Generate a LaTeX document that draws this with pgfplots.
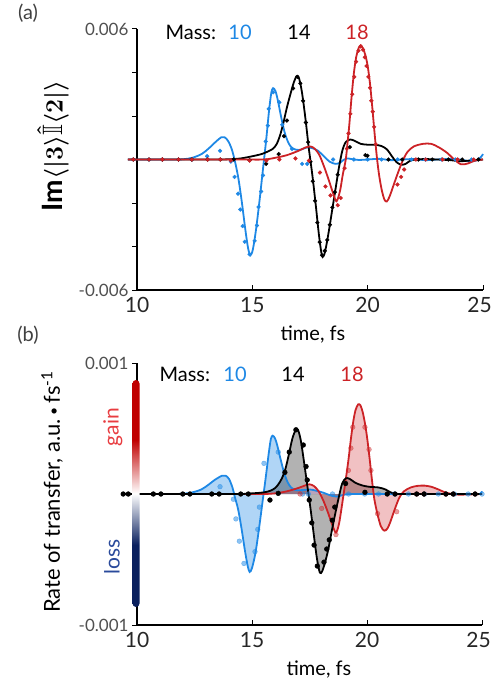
\documentclass[border=0pt]{standalone}
\usepackage{pgfplots}
\pgfplotsset{compat=1.18}
\usepackage{pgfplotstable}
\usepackage{amssymb}
\usepackage{fontspec}
\setmainfont{Lato}
\definecolor{cblue}{RGB}{30,136,229}
\definecolor{cred}{RGB}{204,34,38}
\definecolor{gainred}{RGB}{232,60,64}
\definecolor{lossblue}{RGB}{42,74,155}
\definecolor{barred}{RGB}{192,0,0}
\definecolor{barnavy}{RGB}{10,32,94}
\definecolor{ticklab}{RGB}{80,80,80}
\pgfdeclareverticalshading{gainloss}{100bp}{color(0bp)=(barnavy); color(25bp)=(barnavy); color(38.7bp)=(barnavy); color(50bp)=(white); color(61.8bp)=(barred); color(75bp)=(barred); color(100bp)=(barred)}
\newcommand{\imlabel}{\boldmath$\mathrm{Im}\langle\vert 3\rangle\hat{\mathbb{I}}\langle 2\vert\rangle$}

% ---------- top panel (units of 1e-3) ----------
\pgfplotstableread{
t v
9.6 0
10.5 0
11.0 0
11.5 0
12.0 0.01
12.4 0.08
12.8 0.25
13.1 0.5
13.4 0.8
13.65 1.02
13.8 1.02
13.95 0.85
14.1 0.5
14.25 -0.1
14.4 -0.9
14.55 -2.0
14.7 -3.25
14.82 -4.1
14.92 -4.4
15.02 -4.15
15.15 -3.3
15.3 -2.0
15.45 -0.55
15.6 0.9
15.72 2.2
15.82 3.05
15.9 3.28
16.0 3.15
16.1 2.75
16.25 1.95
16.4 1.25
16.55 0.8
16.7 0.55
16.9 0.45
17.1 0.45
17.35 0.55
17.6 0.52
17.85 0.4
18.1 0.15
18.35 -0.1
18.6 -0.2
18.8 -0.15
18.95 -0.02
19.1 0.05
19.3 0.02
19.6 -0.02
20.0 0.0
20.5 0.03
21.0 -0.03
21.5 0.0
22.0 0.02
22.5 -0.03
23.0 0.0
23.5 0.02
24.0 0.0
24.4 -0.08
24.7 -0.05
24.9 0.1
25.0 0.25
}\topblue
\pgfplotstableread{
t v
9.6 0
10.5 0
11.5 0
12.5 0
13.5 0
14.0 0.01
14.5 0.05
15.0 0.15
15.4 0.25
15.7 0.38
15.9 0.5
16.05 0.7
16.2 1.1
16.35 1.7
16.5 2.4
16.65 3.0
16.8 3.55
16.92 3.83
17.02 3.75
17.15 3.1
17.3 1.9
17.45 0.5
17.6 -0.7
17.75 -2.1
17.88 -3.4
17.98 -4.2
18.05 -4.48
18.15 -4.25
18.3 -3.4
18.45 -2.4
18.6 -1.4
18.75 -0.4
18.9 0.4
19.05 0.8
19.25 0.92
19.45 0.85
19.7 0.72
20.0 0.68
20.3 0.68
20.6 0.62
20.85 0.45
21.05 0.15
21.25 -0.12
21.45 -0.24
21.65 -0.2
21.85 -0.05
22.1 0.0
22.5 0.02
23.0 0.0
23.6 -0.03
24.0 -0.08
24.4 -0.05
24.8 -0.02
25 0
}\topblack
\pgfplotstableread{
t v
9.6 0
10.5 0
11.5 0
12.5 0
13.5 0
14.5 0
15.5 0
16.0 0.08
16.5 0.2
17.0 0.4
17.3 0.55
17.52 0.6
17.7 0.5
17.9 0.22
18.1 -0.3
18.3 -0.9
18.5 -1.55
18.65 -1.92
18.8 -1.45
18.92 -0.7
19.05 0.0
19.12 0.7
19.2 1.55
19.3 2.85
19.4 3.95
19.5 4.7
19.6 5.1
19.7 5.25
19.8 5.1
19.9 4.8
20.0 4.3
20.1 3.5
20.2 2.4
20.3 1.2
20.4 0.1
20.5 -0.75
20.62 -1.45
20.73 -1.85
20.83 -1.93
20.95 -1.7
21.1 -1.25
21.3 -0.65
21.5 -0.1
21.72 0.34
22.0 0.6
22.4 0.72
22.75 0.72
23.1 0.55
23.45 0.3
23.75 0.0
24.05 -0.22
24.35 -0.18
24.65 -0.05
25 0
}\topred
\pgfplotstableread{
t v
9.84 0
10.52 0
11.1 0
11.8 0
12.38 0
13.04 0.15
13.6 0.4
14.07 -0.1
14.23 -0.8
14.38 -1.57
14.48 -2.3
14.58 -3.06
14.67 -3.78
14.88 -4.36
15.1 -3.74
15.2 -3.03
15.27 -2.18
15.38 -1.47
15.46 -0.73
15.58 0.83
15.67 1.56
15.71 2.33
15.9 3.09
16.17 2.63
16.3 1.6
16.72 0.49
17.16 -0.2
17.38 -0.2
18.5 0
19.4 0
20.0 0
20.6 0
21.3 0
21.9 0
22.5 0
23.2 0
23.8 0
24.5 0
}\topbluedots
\pgfplotstableread{
t v
9.84 0
10.52 0
11.1 0
11.8 0
12.38 0
13.06 0
13.61 0
14.19 0
14.88 -0.03
15.6 -0.2
16.14 0.25
16.37 1.07
16.5 1.79
16.77 3.27
16.95 3.8
17.08 3.5
17.2 2.7
17.32 1.7
17.42 0.8
17.52 -0.1
17.62 -1.0
17.72 -1.9
17.82 -2.9
17.92 -3.8
18.02 -4.4
18.14 -4.2
18.25 -3.7
18.36 -3.0
18.47 -2.2
18.58 -1.5
18.7 -0.7
19.23 0.57
19.9 0.2
19.99 0.17
20.9 0
21.5 0
22.2 0
22.8 0
23.5 0
24.1 0
24.8 0
}\topblackdots
\pgfplotstableread{
t v
9.84 0
10.52 0
11.1 0
11.8 0
12.38 0
13.06 0
13.61 0
14.07 -0.05
14.88 -0.05
15.61 -0.05
16.17 0
16.87 0.05
17.45 -0.05
17.93 -0.6
18.17 -1.24
18.39 -1.65
18.7 -2.1
18.83 -1.77
19.0 -0.4
19.1 0.5
19.17 1.2
19.25 2.1
19.33 3.0
19.42 3.8
19.5 4.5
19.6 5.0
19.7 5.2
19.8 5.05
19.88 4.7
19.95 4.3
20.03 3.8
20.1 3.3
20.16 2.7
20.22 2.2
20.28 1.5
20.35 0.7
21.29 -1.15
21.45 -0.8
21.58 -0.46
22.09 0
22.52 0
23.25 0
23.9 0
24.6 0
}\topreddots

% ---------- bottom panel (units of 1e-3) ----------
\pgfplotstableread{
t v
9.45 0
10.5 0
11.0 0
11.5 0
12.0 0.002
12.4 0.012
12.8 0.035
13.1 0.07
13.4 0.11
13.7 0.14
13.85 0.14
14.0 0.115
14.15 0.05
14.25 -0.02
14.4 -0.12
14.55 -0.27
14.7 -0.44
14.82 -0.555
14.9 -0.595
15.0 -0.565
15.15 -0.45
15.3 -0.27
15.45 -0.07
15.6 0.13
15.72 0.3
15.82 0.42
15.9 0.445
16.0 0.425
16.1 0.37
16.25 0.26
16.4 0.16
16.55 0.09
16.7 0.05
16.9 0.03
17.2 0.03
17.5 0.035
17.8 0.025
18.1 0.01
18.4 -0.01
18.7 -0.02
19.0 -0.005
19.5 0
20.5 0
21.5 0
22.5 0
23.5 0
24.5 0
24.9 0
25.0 0.02
}\botblue
\pgfplotstableread{
t v
9.45 0
10.5 0
11.5 0
12.5 0
13.5 0
14.5 0
15.0 0.005
15.5 0.012
15.8 0.025
16.0 0.045
16.15 0.075
16.3 0.12
16.45 0.19
16.6 0.3
16.75 0.42
16.9 0.49
17.0 0.49
17.12 0.41
17.25 0.26
17.4 0.07
17.55 -0.12
17.7 -0.33
17.83 -0.5
17.95 -0.6
18.05 -0.59
18.18 -0.52
18.32 -0.42
18.47 -0.28
18.62 -0.15
18.78 -0.02
18.92 0.08
19.08 0.12
19.25 0.115
19.5 0.085
19.8 0.065
20.1 0.055
20.5 0.05
20.8 0.035
21.0 0.015
21.2 0.003
21.5 0
22.5 0
23.5 0
24.5 0
25 0
}\botblack
\pgfplotstableread{
t v
9.45 0
10.5 0
11.5 0
12.5 0
13.5 0
14.5 0
15.5 0
16.0 0.005
16.5 0.02
17.0 0.045
17.3 0.065
17.5 0.074
17.7 0.06
17.9 0.02
18.1 -0.05
18.3 -0.14
18.5 -0.24
18.65 -0.295
18.78 -0.23
18.9 -0.1
19.0 0.02
19.1 0.14
19.2 0.27
19.3 0.42
19.4 0.55
19.5 0.64
19.62 0.685
19.72 0.675
19.82 0.62
19.92 0.53
20.02 0.41
20.12 0.26
20.22 0.1
20.32 -0.04
20.45 -0.15
20.6 -0.245
20.75 -0.28
20.88 -0.265
21.0 -0.22
21.2 -0.12
21.4 -0.03
21.6 0.02
21.9 0.05
22.2 0.062
22.5 0.064
22.8 0.055
23.1 0.035
23.4 0.012
23.7 0
24.0 -0.005
24.5 -0.003
25 0
}\botred
\pgfplotstableread{
t v
13.61 0.056
14.19 -0.04
14.3 -0.19
14.45 -0.36
14.65 -0.53
15.13 -0.44
15.25 -0.27
15.32 -0.1
15.52 0.234
16.14 0.32
17.2 0
17.45 0
18.5 0
19.2 0
19.9 0
20.5 0
21.2 0
21.8 0
22.5 0
23.1 0
23.8 0
24.4 0
25.0 0
}\botbluedots
\pgfplotstableread{
t v
17.09 0
18.03 -0.11
18.65 -0.31
19.19 0.18
19.3 0.35
19.38 0.51
19.91 0.51
20.09 0.34
20.17 0.18
20.46 -0.15
21.29 -0.135
22.16 0
22.48 0
23.43 0
23.75 0
24.7 0
}\botreddots
\pgfplotstableread{
t v
9.40 0
9.62 0
10.71 0
11.04 0
11.99 0
12.3 0
13.25 0
13.57 0
14.51 0
14.84 0
15.78 -0.046
16.14 0.005
16.43 0.165
16.62 0.32
16.91 0.49
17.23 0.374
17.35 0.21
17.4 0.107
17.49 -0.046
17.6 -0.22
17.7 -0.39
17.84 -0.55
18.13 -0.52
18.25 -0.42
18.36 -0.35
18.49 -0.2
18.6 -0.1
19.07 0.08
19.91 0.013
20.88 0
21.22 0
22.16 0
22.48 0
23.43 0
23.75 0
24.7 0
}\botblackdots

\pgfplotsset{
  panel/.style={
    scale only axis,
    xmin=10, xmax=25,
    axis x line=bottom, axis y line=left,
    axis line style={-, line width=1.3pt},
    xtick={10,15,20,25}, xticklabels={10,15,20,25\kern7pt},
    xtick align=inside, ytick align=outside,
    major tick length=5pt,
    tick style={line width=1pt, black},
    xticklabel style={font=\fontsize{21}{21}\selectfont, text=black!85, yshift=-4pt},
    yticklabel style={font=\fontsize{17}{17}\selectfont, text=ticklab},
    clip=false,
  },
}

\begin{document}
\begin{tikzpicture}
\path[use as bounding box] (0pt,0pt) rectangle (493pt,-687pt);

% ================= (a) =================
\begin{axis}[panel, at={(137pt,-290pt)}, anchor=south west,
  width=346pt, height=261pt, ymin=-6, ymax=6,
  ytick={-6,-4,-2,0,2,4,6}, yticklabels={-0.006,,,,,,0.006}]
\addplot[cblue, line width=1.8pt, smooth] table[x=t,y=v] {\topblue};
\addplot[black, line width=1.8pt, smooth] table[x=t,y=v] {\topblack};
\addplot[cred, line width=1.8pt, smooth] table[x=t,y=v] {\topred};
\addplot[only marks, mark=*, mark size=1.9pt, cblue] table[x=t,y=v] {\topbluedots};
\addplot[only marks, mark=*, mark size=1.9pt, black] table[x=t,y=v] {\topblackdots};
\addplot[only marks, mark=*, mark size=1.9pt, cred] table[x=t,y=v] {\topreddots};
\end{axis}

% ================= (b) =================
\begin{axis}[panel, at={(137pt,-625pt)}, anchor=south west,
  width=345pt, height=262pt, ymin=-1, ymax=1,
  ytick={-1,-0.5,0,0.5,1}, yticklabels={-0.001,,,,0.001}]
\addplot[draw=none, fill=cblue, fill opacity=0.35, smooth] table[x=t,y=v] {\botblue} \closedcycle;
\addplot[draw=none, fill=black, fill opacity=0.3, smooth] table[x=t,y=v] {\botblack} \closedcycle;
\addplot[draw=none, fill=cred, fill opacity=0.28, smooth] table[x=t,y=v] {\botred} \closedcycle;
\addplot[cblue, line width=1.8pt, smooth] table[x=t,y=v] {\botblue};
\addplot[cred, line width=1.8pt, smooth] table[x=t,y=v] {\botred};
\addplot[black, line width=1.8pt, smooth] table[x=t,y=v] {\botblack};
\addplot[only marks, mark=*, mark size=2.4pt, cblue, opacity=0.5] table[x=t,y=v] {\botbluedots};
\addplot[only marks, mark=*, mark size=2.4pt, cred, opacity=0.45] table[x=t,y=v] {\botreddots};
\addplot[only marks, mark=*, mark size=2.4pt, black] table[x=t,y=v] {\botblackdots};
\end{axis}

% colour bar
\shade[shading=gainloss, rounded corners=3.5pt] (132.5pt,-607pt) rectangle (139.5pt,-380pt);

% texts
\node[text=black!75, font=\fontsize{20}{20}\selectfont] at (28pt,-13pt) {(a)};
\node[text=black!75, font=\fontsize{20}{20}\selectfont] at (28pt,-335pt) {(b)};

\node[anchor=west, font=\fontsize{20}{20}\selectfont] at (162pt,-32pt) {Mass:};
\node[text=cblue, font=\fontsize{20}{20}\selectfont] at (240pt,-32pt) {10};
\node[font=\fontsize{20}{20}\selectfont] at (299pt,-32pt) {14};
\node[text=cred, font=\fontsize{20}{20}\selectfont] at (357pt,-32pt) {18};

\node[anchor=west, font=\fontsize{20}{20}\selectfont] at (156pt,-374pt) {Mass:};
\node[text=cblue, font=\fontsize{20}{20}\selectfont] at (235pt,-374pt) {10};
\node[font=\fontsize{20}{20}\selectfont] at (293pt,-374pt) {14};
\node[text=cred, font=\fontsize{20}{20}\selectfont] at (352pt,-374pt) {18};

\node[font=\fontsize{20}{20}\selectfont] at (313pt,-335pt) {time, fs};
\node[font=\fontsize{20}{20}\selectfont] at (319pt,-670pt) {time, fs};

% rotated labels: pgftext rotates first, so at=(y,-x) places the centre at (x,y)
\pgftext[rotate=90, at={\pgfpoint{-146pt}{-53pt}}]{\fontsize{28}{28}\selectfont\imlabel}
\pgftext[rotate=90, at={\pgfpoint{-492pt}{-52pt}}]{\fontsize{22}{22}\selectfont Rate of transfer, a.u.\,{\fontsize{14}{14}\selectfont\raisebox{1.5pt}{\textbullet}}\,fs\textsuperscript{-1}}
\pgftext[rotate=90, at={\pgfpoint{-427pt}{-113pt}}]{\fontsize{21}{21}\selectfont\color{gainred}gain}
\pgftext[rotate=90, at={\pgfpoint{-557pt}{-112pt}}]{\fontsize{21}{21}\selectfont\color{lossblue}loss}
\end{tikzpicture}
\end{document}
